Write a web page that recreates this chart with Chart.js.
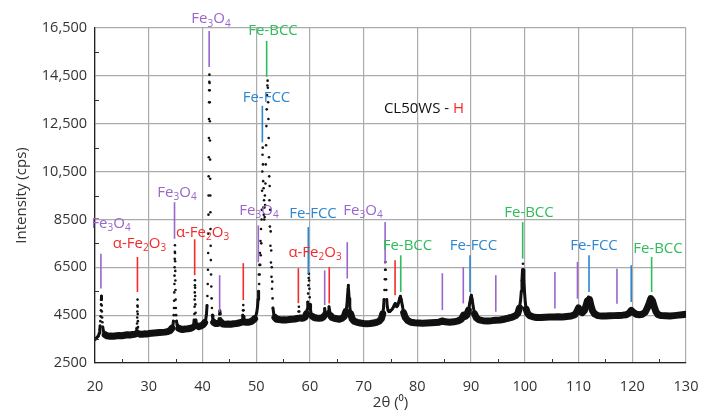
<!DOCTYPE html>
<html>
<head>
<meta charset="utf-8">
<script src="https://cdn.jsdelivr.net/npm/chart.js@4/dist/chart.umd.min.js"></script>
<style>
  html, body { margin: 0; padding: 0; background: #fff; }
  #wrap { width: 701px; height: 414px; }
</style>
</head>
<body>
<div id="wrap"><canvas id="xrd" width="701" height="414"></canvas></div>
<script>
// tick labels
const xTicks = [20, 30, 40, 50, 60, 70, 80, 90, 100, 110, 120, 130];
const yTicks = [2500, 4500, 6500, 8500, 10500, 12500, 14500, 16500];

// scan, [2θ, counts]
const scan20to40 = [
  [20.0,3480],[20.2,3520],[20.4,3580],[20.6,3620],[20.8,3750],[20.9,3900],[20.95,4050],[21.0,4250],
  [21.05,4450],[21.1,4700],[21.13,4950],[21.16,5150],[21.19,5300],[21.22,5150],[21.25,4900],[21.28,4650],
  [21.32,4400],[21.38,4200],[21.45,4000],[21.55,3850],[21.7,3750],[21.9,3680],[22.2,3640],[22.6,3620],
  [23.0,3630],[23.5,3620],[24.0,3640],[24.5,3650],[25.0,3640],[25.5,3660],[26.0,3680],[26.5,3670],
  [27.0,3690],[27.4,3700],[27.65,3720],[27.75,3800],[27.8,3950],[27.83,4150],[27.86,4400],[27.88,4650],
  [27.9,4900],[27.92,5150],[27.94,4850],[27.96,4550],[27.98,4250],[28.01,4000],[28.06,3800],[28.15,3720],
  [28.4,3700],[28.8,3700],[29.2,3720],[29.6,3710],[30.0,3730],[30.5,3740],[31.0,3750],[31.5,3760],
  [32.0,3770],[32.5,3780],[33.0,3790],[33.5,3810],[34.0,3860],[34.3,3950],[34.5,4050],[34.6,4250],
  [34.66,4500],[34.7,4800],[34.73,5100],[34.76,5450],[34.78,5800],[34.8,6150],[34.82,6500],[34.84,6850],
  [34.86,7150],[34.88,7420],[34.9,7100],[34.92,6750],[34.94,6350],[34.96,5950],[34.98,5550],[35.01,5150],
  [35.05,4800],[35.1,4500],[35.17,4250],[35.27,4100],[35.4,4000],[35.6,3950],[35.9,3920],[36.3,3900],
  [36.8,3920],[37.3,3930],[37.8,3950],[38.1,3980],[38.3,4050],[38.4,4150],[38.45,4300],[38.5,4550],
  [38.53,4850],[38.55,5150],[38.57,5450],[38.59,5750],[38.61,5960],[38.63,5650],[38.65,5300],[38.68,4950],
  [38.72,4600],[38.78,4300],[38.86,4150],[39.0,4050],[39.3,4020],[39.7,4050]
];
const scan40to55 = [
  [40.1,4100],[40.4,4180],[40.6,4300],[40.75,4550],[40.85,4900],[40.92,5300],[40.98,5800],[41.02,6400],
  [41.06,7100],[41.09,7900],[41.12,8700],[41.14,9500],[41.16,10300],[41.18,11100],[41.2,11900],[41.22,12700],
  [41.24,13400],[41.26,13900],[41.28,14250],[41.3,14550],[41.32,14200],[41.34,13900],[41.36,13400],[41.38,12600],
  [41.4,11800],[41.42,11000],[41.44,10200],[41.46,9500],[41.48,8800],[41.5,8100],[41.53,7400],[41.56,6800],
  [41.6,6200],[41.65,5700],[41.7,5200],[41.76,4800],[41.84,4500],[41.95,4300],[42.1,4200],[42.4,4150],
  [42.8,4150],[43.0,4200],[43.1,4350],[43.18,4550],[43.24,4680],[43.3,4550],[43.38,4350],[43.5,4200],
  [43.8,4130],[44.3,4120],[44.8,4130],[45.3,4120],[45.8,4140],[46.3,4150],[46.8,4170],[47.2,4200],
  [47.4,4300],[47.5,4500],[47.55,4700],[47.6,4920],[47.65,4700],[47.7,4450],[47.8,4280],[48.0,4200],
  [48.5,4200],[49.0,4230],[49.4,4280],[49.7,4350],[49.9,4450],[50.1,4600],[50.25,4850],[50.35,5150],
  [50.45,5500],[50.5,6200],[50.55,5800],[50.6,6600],[50.65,6200],[50.7,7100],[50.75,6600],[50.8,7600],
  [50.85,7000],[50.9,8100],[50.95,7500],[51.0,8500],[51.05,8900],[51.1,9700],[51.14,10500],[51.18,11200],
  [51.22,11500],[51.26,10800],[51.3,10100],[51.34,9000],[51.38,9800],[51.42,8700],[51.46,9300],[51.5,8500],
  [51.54,9000],[51.58,8600],[51.62,9500],[51.66,9100],[51.72,10000],[51.78,10800],[51.84,11600],[51.9,12400],
  [51.96,13100],[52.02,13700],[52.08,14100],[52.13,14300],[52.18,14000],[52.23,13400],[52.28,12700],[52.33,11900],
  [52.38,11100],[52.43,10300],[52.47,9300],[52.51,9900],[52.55,8200],[52.6,8900],[52.65,7400],[52.7,8000],
  [52.75,6700],[52.8,7200],[52.85,6100],[52.9,6500],[52.95,5600],[53.0,5900],[53.05,5200],[53.12,4800],
  [53.28,4550],[53.5,4400],[53.8,4330],[54.2,4320],[54.7,4300]
];
const scan55to80 = [
  [55.2,4310],[55.7,4300],[56.2,4320],[56.7,4330],[57.2,4340],[57.6,4360],[57.8,4450],[57.88,4650],
  [57.95,4850],[58.02,4650],[58.1,4450],[58.25,4380],[58.5,4370],[58.8,4380],[59.1,4420],[59.35,4550],
  [59.5,4750],[59.6,5050],[59.67,5400],[59.72,5750],[59.77,6050],[59.81,6230],[59.85,5950],[59.9,5600],
  [59.96,5250],[60.03,4950],[60.12,4700],[60.25,4550],[60.45,4450],[60.8,4400],[61.2,4380],[61.7,4370],
  [62.2,4380],[62.5,4430],[62.65,4600],[62.75,4780],[62.85,4600],[63.0,4480],[63.2,4500],[63.4,4650],
  [63.55,4850],[63.7,4650],[63.85,4480],[64.1,4400],[64.5,4370],[65.0,4350],[65.5,4330],[66.0,4370],
  [66.4,4450],[66.7,4650],[66.9,4950],[67.0,5300],[67.1,5600],[67.15,5750],[67.2,5550],[67.3,5200],
  [67.42,4850],[67.6,4550],[67.85,4350],[68.2,4250],[68.8,4200],[69.4,4170],[70.0,4150],[70.6,4140],
  [71.2,4150],[71.8,4170],[72.4,4200],[72.9,4250],[73.3,4350],[73.55,4550],[73.7,4800],[73.8,5150],
  [73.88,5550],[73.95,6000],[74.0,6400],[74.05,6720],[74.1,6400],[74.16,6000],[74.22,5550],[74.3,5150],
  [74.4,4850],[74.55,4700],[74.7,4650],[74.9,4650],[75.1,4700],[75.3,4750],[75.5,4820],[75.7,4920],
  [75.85,4980],[76.0,4900],[76.15,4850],[76.35,4900],[76.55,5050],[76.7,5200],[76.85,5290],[77.0,5150],
  [77.2,4900],[77.45,4600],[77.75,4400],[78.2,4280],[78.8,4200],[79.5,4180]
];
const scan80to130 = [
  [80.2,4170],[81.0,4160],[81.8,4170],[82.6,4180],[83.4,4190],[84.0,4200],[84.6,4260],[85.2,4220],
  [86.0,4200],[86.8,4220],[87.6,4260],[88.2,4330],[88.6,4500],[88.9,4450],[89.2,4500],[89.5,4700],
  [89.75,5000],[89.95,5250],[90.05,5330],[90.2,5150],[90.4,4850],[90.65,4550],[91.0,4380],[91.5,4300],
  [92.2,4270],[93.0,4260],[93.8,4270],[94.6,4290],[95.4,4300],[96.2,4330],[97.0,4380],[97.7,4420],
  [98.3,4480],[98.7,4580],[99.0,4800],[99.2,5100],[99.35,5500],[99.47,5950],[99.57,6400],[99.65,6650],
  [99.73,6400],[99.83,5950],[99.95,5450],[100.08,5050],[100.25,4750],[100.5,4580],[100.9,4480],[101.5,4430],
  [102.2,4400],[103.0,4400],[103.8,4410],[104.6,4420],[105.4,4420],[106.2,4430],[107.0,4420],[107.8,4440],
  [108.6,4460],[109.3,4520],[109.7,4650],[110.0,4800],[110.3,4650],[110.7,4600],[111.1,4700],[111.4,4900],
  [111.65,5100],[111.85,5260],[112.05,5150],[112.3,4900],[112.6,4680],[113.0,4550],[113.6,4480],[114.3,4460],
  [115.0,4460],[115.8,4470],[116.6,4480],[117.4,4490],[118.2,4500],[118.9,4520],[119.4,4580],[119.8,4700],
  [120.2,4620],[120.7,4540],[121.3,4520],[121.9,4540],[122.4,4620],[122.8,4800],[123.15,5000],[123.45,5190],
  [123.75,5100],[124.05,4880],[124.4,4650],[124.8,4520],[125.4,4480],[126.2,4470],[127.0,4460],[127.8,4480],
  [128.6,4500],[129.3,4520],[130.0,4540]
];

// reference marks [2θ, from counts, to counts]
const fe3o4Marks = [[21.1,5610,7070],[34.8,7690,9220],[41.25,14870,16370],[43.2,4640,6170],[50.4,6710,8250],
  [62.75,4920,6370],[66.95,6030,7550],[74.0,6650,8390],[84.65,4710,6250],[88.55,4990,6510],[94.6,4640,6170],
  [105.6,4780,6300],[109.8,5190,6720],[117.15,4980,6440]];
const hematiteMarks = [[27.9,5470,6930],[38.55,6170,7670],[47.6,5130,6670],[57.85,5000,6460],[63.6,4990,6510],[75.85,5330,6790]];
const fccMarks = [[51.15,11720,13250],[59.7,6230,8180],[89.8,5470,7000],[111.95,5470,7000],[119.8,5050,6580]];
const bccMarks = [[51.95,14460,15960],[76.9,5470,7000],[99.6,6860,8390],[123.6,5470,6930]];

// phase labels [text, phase, 2θ, counts]  ("_" = subscript)
const phaseLabels = [
  ['Fe_3O_4','fe3o4',41.59,16875], ['Fe-BCC','bcc',53.13,16375], ['Fe-FCC','fcc',51.92,13583],
  ['Fe_3O_4','fe3o4',35.26,9625], ['Fe_3O_4','fe3o4',22.98,8333], ['α-Fe_2O_3','hem',28.28,7500],
  ['α-Fe_2O_3','hem',40.01,7958], ['Fe_3O_4','fe3o4',50.52,8875], ['Fe-FCC','fcc',60.57,8750],
  ['α-Fe_2O_3','hem',60.95,7125], ['Fe_3O_4','fe3o4',69.88,8875], ['Fe-BCC','bcc',78.16,7417],
  ['Fe-FCC','fcc',90.44,7417], ['Fe-BCC','bcc',100.77,8792], ['Fe-FCC','fcc',112.87,7417],
  ['Fe-BCC','bcc',124.78,7292]
];
const sampleName = 'CL50WS - ';
const sampleState = 'H';
const sampleAt = [81.23, 13125];

const phaseColors = { fe3o4: '#9a66cc', hem: '#f52a2a', fcc: '#2d86d2', bcc: '#2dbd5a' };
const FONT = '"Open Sans", "Liberation Sans", sans-serif';

function drawRich(ctx, text, cx, cy, color) {
  const parts = [];
  for (let i = 0; i < text.length; i++) {
    if (text[i] === '_') { parts.push([text[i + 1], true]); i++; }
    else parts.push([text[i], false]);
  }
  const big = '15px ' + FONT, small = '10px ' + FONT;
  let w = 0;
  parts.forEach(p => { ctx.font = p[1] ? small : big; w += ctx.measureText(p[0]).width; });
  let x = cx - w / 2;
  ctx.fillStyle = color;
  ctx.textBaseline = 'middle';
  ctx.textAlign = 'left';
  parts.forEach(p => {
    ctx.font = p[1] ? small : big;
    ctx.fillText(p[0], x, p[1] ? cy + 5 : cy);
    x += ctx.measureText(p[0]).width;
  });
}

const overlay = {
  id: 'overlay',
  afterDatasetsDraw(chart) {
    const { ctx, scales: { x, y } } = chart;
    ctx.save();
    // small inner ticks
    ctx.strokeStyle = '#333';
    ctx.lineWidth = 1;
    for (let v = 25; v < 130; v += 10) {
      const px = Math.round(x.getPixelForValue(v)) + 0.5;
      ctx.beginPath(); ctx.moveTo(px, y.bottom); ctx.lineTo(px, y.bottom - 4); ctx.stroke();
    }
    for (let v = 3500; v < 16500; v += 2000) {
      const py = Math.round(y.getPixelForValue(v)) + 0.5;
      ctx.beginPath(); ctx.moveTo(x.left, py); ctx.lineTo(x.left + 4, py); ctx.stroke();
    }
    // phase marks
    ctx.lineWidth = 1.6;
    [[fe3o4Marks, 'fe3o4'], [hematiteMarks, 'hem'], [fccMarks, 'fcc'], [bccMarks, 'bcc']].forEach(([marks, ph]) => {
      ctx.strokeStyle = phaseColors[ph];
      marks.forEach(([t, lo, hi]) => {
        const px = x.getPixelForValue(t);
        ctx.beginPath(); ctx.moveTo(px, y.getPixelForValue(lo)); ctx.lineTo(px, y.getPixelForValue(hi)); ctx.stroke();
      });
    });
    phaseLabels.forEach(([txt, ph, t, c]) => drawRich(ctx, txt, x.getPixelForValue(t), y.getPixelForValue(c), phaseColors[ph]));
    // sample name
    ctx.font = '15px ' + FONT;
    const w1 = ctx.measureText(sampleName).width, w2 = ctx.measureText(sampleState).width;
    let sx = x.getPixelForValue(sampleAt[0]) - (w1 + w2) / 2;
    const sy = y.getPixelForValue(sampleAt[1]);
    ctx.textBaseline = 'middle'; ctx.textAlign = 'left';
    ctx.fillStyle = '#111'; ctx.fillText(sampleName, sx, sy);
    ctx.fillStyle = '#f52a2a'; ctx.fillText(sampleState, sx + w1, sy);
    ctx.restore();
  }
};

const pattern = [...scan20to40, ...scan40to55, ...scan55to80, ...scan80to130].map(([t, c]) => ({ x: t, y: c }));

// thick noisy band on the flat parts, thinner on broad peaks, bare dots on sharp ones
function bandWidth(c) {
  const dx = Math.abs(c.p1.x - c.p0.x), dy = Math.abs(c.p1.y - c.p0.y);
  if (dx >= 1.2 && dy <= 6) return 7;
  return 3;
}
function bandColor(c) {
  const dx = Math.abs(c.p1.x - c.p0.x), dy = Math.abs(c.p1.y - c.p0.y);
  return (dx < 0.45 && dy > 4) || dy > 14 ? 'rgba(0,0,0,0)' : '#111';
}

new Chart(document.getElementById('xrd'), {
  type: 'scatter',
  data: {
    datasets: [{
      data: pattern,
      showLine: true,
      borderColor: '#111',
      backgroundColor: '#111',
      borderWidth: 7,
      borderCapStyle: 'round',
      borderJoinStyle: 'round',
      pointRadius: 1.3,
      pointBorderWidth: 0,
      segment: { borderWidth: bandWidth, borderColor: bandColor }
    }]
  },
  options: {
    responsive: false,
    animation: false,
    events: [],
    layout: { padding: { top: 28, right: 15, left: 0, bottom: 0 } },
    plugins: { legend: { display: false }, tooltip: { enabled: false } },
    scales: {
      x: {
        type: 'linear', min: 20, max: 130,
        afterBuildTicks: s => { s.ticks = xTicks.map(v => ({ value: v })); },
        afterFit: s => { s.height = 51; s.paddingLeft = 0; s.paddingRight = 0; },
        grid: { color: '#ababab', lineWidth: 1.2, drawTicks: false },
        border: { color: '#222', width: 1.3 },
        ticks: { padding: 15, color: '#333', font: { family: FONT, size: 14.5 } },
        title: { display: true, text: '2θ (⁰)', color: '#333', font: { family: FONT, size: 15 }, padding: { top: 0, bottom: 2 } }
      },
      y: {
        type: 'linear', min: 2500, max: 16500,
        afterBuildTicks: s => { s.ticks = yTicks.map(v => ({ value: v })); },
        afterFit: s => { s.width = 95; },
        grid: { color: '#ababab', lineWidth: 1.2, drawTicks: false },
        border: { color: '#222', width: 1.3 },
        ticks: {
          padding: 8, color: '#333', font: { family: FONT, size: 14.5 },
          callback: v => v >= 10000 ? v.toLocaleString('en-US') : String(v)
        },
        title: { display: true, text: 'Intensity (cps)', color: '#333', font: { family: FONT, size: 15 }, padding: { top: 13, bottom: 0 } }
      }
    }
  },
  plugins: [overlay]
});
</script>
</body>
</html>
